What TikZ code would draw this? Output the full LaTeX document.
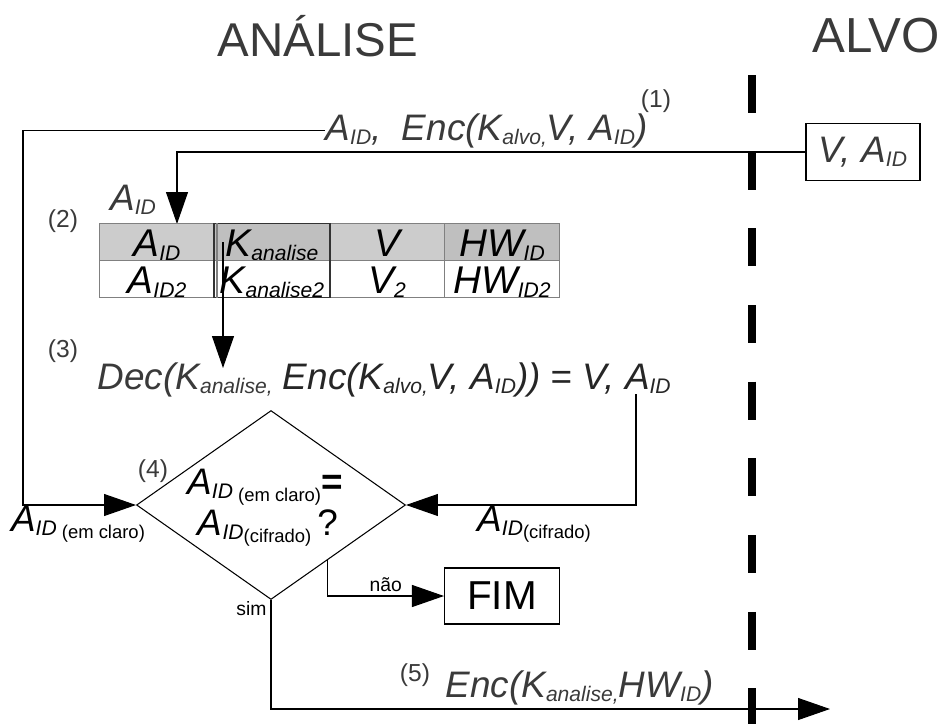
\documentclass[tikz,border=0pt]{standalone}
\usepackage{fontspec}
\setmainfont{Liberation Sans}
\usetikzlibrary{arrows.meta, shapes.geometric, calc, positioning}
\definecolor{inkgray}{HTML}{3A3A3A}
\definecolor{headgray}{HTML}{CCCCCC}
\definecolor{headdark}{HTML}{BFBFBF}
\newcommand{\ix}[1]{\raisebox{-0.12em}{\fontsize{12}{14}\selectfont #1}}
\newcommand{\pnote}[1]{\raisebox{-0.35ex}{\fontsize{10.5}{12}\selectfont\upshape #1}}

\begin{document}
\begin{tikzpicture}[x=0.02cm, y=-0.02cm, line width=0.6pt,
    lbl/.style={font=\fontsize{21}{24}\selectfont\itshape, text=inkgray, inner sep=0pt},
    num/.style={font=\fontsize{14}{16}\selectfont, text=inkgray, inner sep=0pt},
    small lbl/.style={font=\fontsize{11}{13}\selectfont, inner sep=0pt},
    cell/.style={draw=gray, minimum width=2.3cm, minimum height=0.73cm, inner sep=0pt},
    celltxt/.style={font=\fontsize{22}{24}\selectfont\itshape, inner sep=0pt, anchor=base},
    arr/.style={-{Triangle[length=0.64cm,width=0.44cm]}}]
  \useasboundingbox (0,0) rectangle (950,724);

  % side titles
  \node[font=\fontsize{27}{30}\selectfont, text=inkgray] (analise) at (318,36) {ANÁLISE};
  \node[font=\fontsize{28}{30}\selectfont, text=inkgray] (alvo) at (876,36) {ALVO};

  % border between the two sides
  \coordinate (wtop) at (752,75);
  \coordinate (wbot) at (752,724);
  \draw[line width=4.5pt, dash pattern=on 0.76cm off 0.774cm] (wtop) -- (wbot);

  % decision diamond
  \node[draw, shape=diamond, minimum width=5.38cm, minimum height=3.78cm, inner sep=0pt] (dia) at (271,505) {};

  % (1) target sends V, A_ID
  \node[draw, lbl, minimum width=2.28cm, minimum height=1.14cm] (valvo) at (863,152) {V, A\ix{ID}};
  \node[lbl, anchor=base west] (msg1) at (325,140) {A\ix{ID},~ Enc(K\ix{alvo,}V, A\ix{ID})};
  \node[num] (n1) at (656,101) {(1)};
  \coordinate (ml) at (23,505);
  \draw[arr] (msg1.west) -- (msg1.west -| ml) -- (ml) -- (dia.west);

  % (2) lookup in the table
  \coordinate (in2) at (177,224);
  \draw[arr] (valvo.west) -- (valvo.west -| in2) -- (in2);
  \node[lbl] (aid2) at (133,200) {A\ix{ID}};
  \node[num] (n2) at (63,221) {(2)};

  \foreach \name/\cx/\fillc in {h1/157/headgray, h2/272/headdark, h3/387/headgray, h4/502/headdark}
    \node[cell, fill=\fillc] (\name) at (\cx,242) {};
  \foreach \cx/\txt [count=\i] in {157/{A\ix{ID}}, 272/{K\ix{analise}}, 387/{V}, 502/{HW\ix{ID}}}
    \node[celltxt] (ht\i) at (\cx,256) {\txt};
  \foreach \name/\cx in {r1/157, r2/272, r3/387, r4/502}
    \node[cell, fill=white] (\name) at (\cx,279) {};
  \foreach \cx/\txt [count=\i] in {157/{A\ix{ID2}}, 272/{K\ix{analise2}}, 387/{V\ix{2}}, 502/{HW\ix{ID2}}}
    \node[celltxt] (rt\i) at (\cx,293) {\txt};
  \draw[black!80] (h2.north west) rectangle (r2.south east);
  \draw[gray] ([xshift=0.06cm]h2.north west) -- ([xshift=0.06cm]r2.south west);

  % (3) decryption with K_analise
  \coordinate (kstart) at (223,242);
  \coordinate (kend) at (223,368);
  \draw[arr] (kstart) -- (kend);
  \node[num] (n3) at (63,351) {(3)};
  \node[lbl, anchor=base west] (dec3) at (97,389) {Dec(K\ix{analise,}~\textcolor{black!85}{Enc(K\ix{alvo,}V, A\ix{ID})) = V, A\ix{ID}}};
  \coordinate (aid3) at (636,394);
  \coordinate (mr) at (636,505);
  \draw[arr] (aid3) -- (mr) -- (dia.east);

  % (4) comparison
  \node[num] (n4) at (153,471) {(4)};
  \node[lbl, text=black] (q1) at (265,487) {A\ix{ID}\pnote{~(em claro)}\textbf{\upshape =}};
  \node[lbl, text=black] (q2) at (268,528) {A\ix{ID}\pnote{(cifrado)}\,\upshape ?};
  \node[lbl, text=black] (aidl) at (78,524) {A\ix{ID}\pnote{~(em claro)}};
  \node[lbl, text=black] (aidr) at (534,524) {A\ix{ID}\pnote{(cifrado)}};

  \node[draw, minimum width=2.3cm, minimum height=1.12cm, font=\fontsize{23}{26}\selectfont] (fim) at (502,596) {FIM};
  \coordinate (nao) at ($(dia.east)!0.58!(dia.south)$);
  \draw[arr] (nao) |- (fim.west) node[small lbl, pos=0.75, above=2pt] (naolbl) {não};

  % (5) answer back to the target
  \coordinate (out5) at (830,709);
  \draw[arr] (dia.south) |- (out5);
  \node[small lbl, anchor=east] (simlbl) at (267,609) {sim};
  \node[num] (n5) at (415,675) {(5)};
  \node[lbl, anchor=base west] (enc5) at (445,697) {Enc(K\ix{analise,}HW\ix{ID})};

\end{tikzpicture}
\end{document}
